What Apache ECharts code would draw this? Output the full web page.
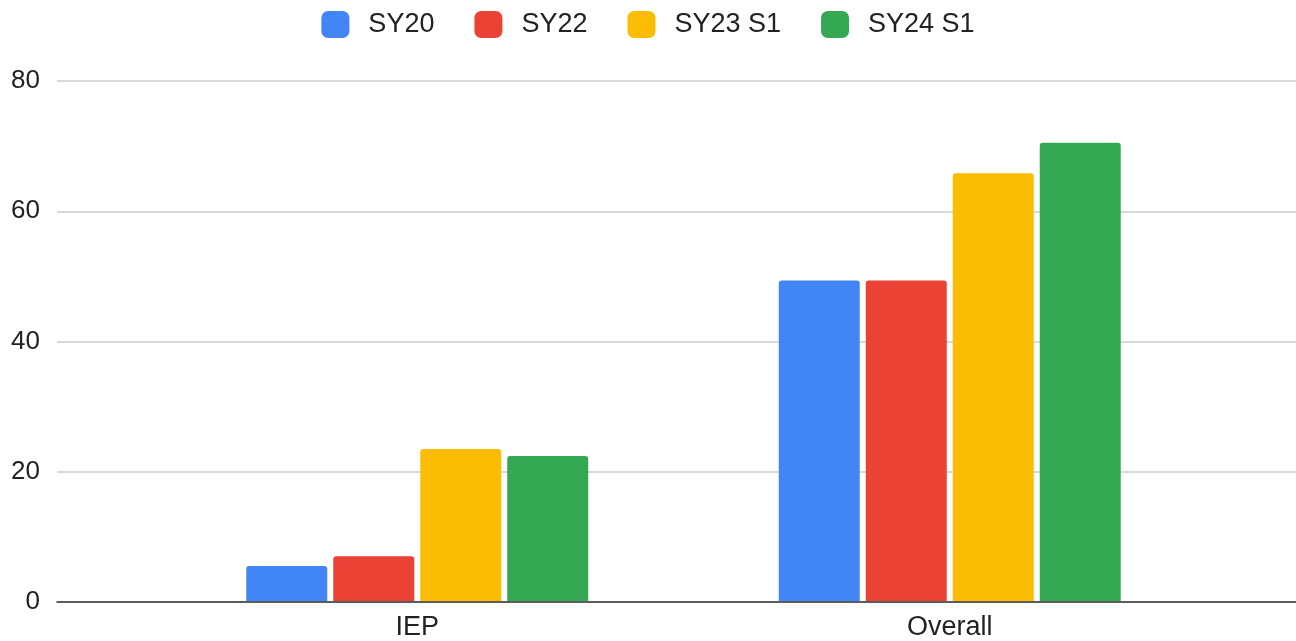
<!DOCTYPE html>
<html>
<head>
<meta charset="utf-8">
<script src="https://cdn.jsdelivr.net/npm/echarts@6/dist/echarts.min.js"></script>
<style>html,body{margin:0;padding:0;background:#fff}#c{width:1296px;height:641px}</style>
</head>
<body>
<div id="c"></div>
<script>
const categories = ['IEP', 'Overall'];
const seriesNames = ['SY20', 'SY22', 'SY23 S1', 'SY24 S1'];
const sy20 = [5.4, 49.3];
const sy22 = [6.9, 49.3];
const sy23s1 = [23.4, 65.8];
const sy24s1 = [22.3, 70.5];
const yTicks = [0, 20, 40, 60, 80];
const colors = ['#4285F4', '#EA4335', '#FBBC04', '#34A853'];

const values = [sy20, sy22, sy23s1, sy24s1];
const font = 'Arial, "Liberation Sans", Helvetica, sans-serif';
const chart = echarts.init(document.getElementById('c'));
chart.setOption({
  animation: false,
  color: colors,
  legend: {
    top: 6,
    left: 'center',
    itemWidth: 28,
    itemHeight: 27,
    itemGap: 40,
    icon: 'roundRect',
    textStyle: { fontSize: 27, color: '#222', fontFamily: font, padding: [2, 0, 0, 14] },
    data: seriesNames
  },
  grid: [
    { left: 57, right: 0, top: 81, bottom: 39 },
    { left: 151, right: 80, top: 81, bottom: 39 }
  ],
  xAxis: [
    { gridIndex: 0, type: 'value', min: 0, max: 1, show: true,
      axisLine: { show: true, onZero: false, lineStyle: { color: '#333', width: 1.5 } },
      axisTick: { show: false }, axisLabel: { show: false }, splitLine: { show: false } },
    { gridIndex: 1, type: 'category', data: categories,
      axisLine: { show: false }, axisTick: { show: false },
      axisLabel: { fontSize: 27, color: '#222', fontFamily: font, margin: 13 } }
  ],
  yAxis: [
    { gridIndex: 0, type: 'value', min: yTicks[0], max: yTicks[yTicks.length - 1], interval: 20,
      axisLine: { show: false }, axisTick: { show: false },
      axisLabel: { fontSize: 26, color: '#222', fontFamily: font, margin: 17 },
      splitLine: { lineStyle: { color: '#cccccc', width: 1.5 } } },
    { gridIndex: 1, type: 'value', min: yTicks[0], max: yTicks[yTicks.length - 1], interval: 20,
      show: false }
  ],
  series: seriesNames.map((name, i) => ({
    name: name,
    type: 'bar',
    xAxisIndex: 1,
    yAxisIndex: 1,
    data: values[i],
    barWidth: 81,
    barGap: '7.4%',
    itemStyle: { color: colors[i], borderRadius: [3, 3, 0, 0] },
    z: 1
  }))
});
</script>
</body>
</html>
